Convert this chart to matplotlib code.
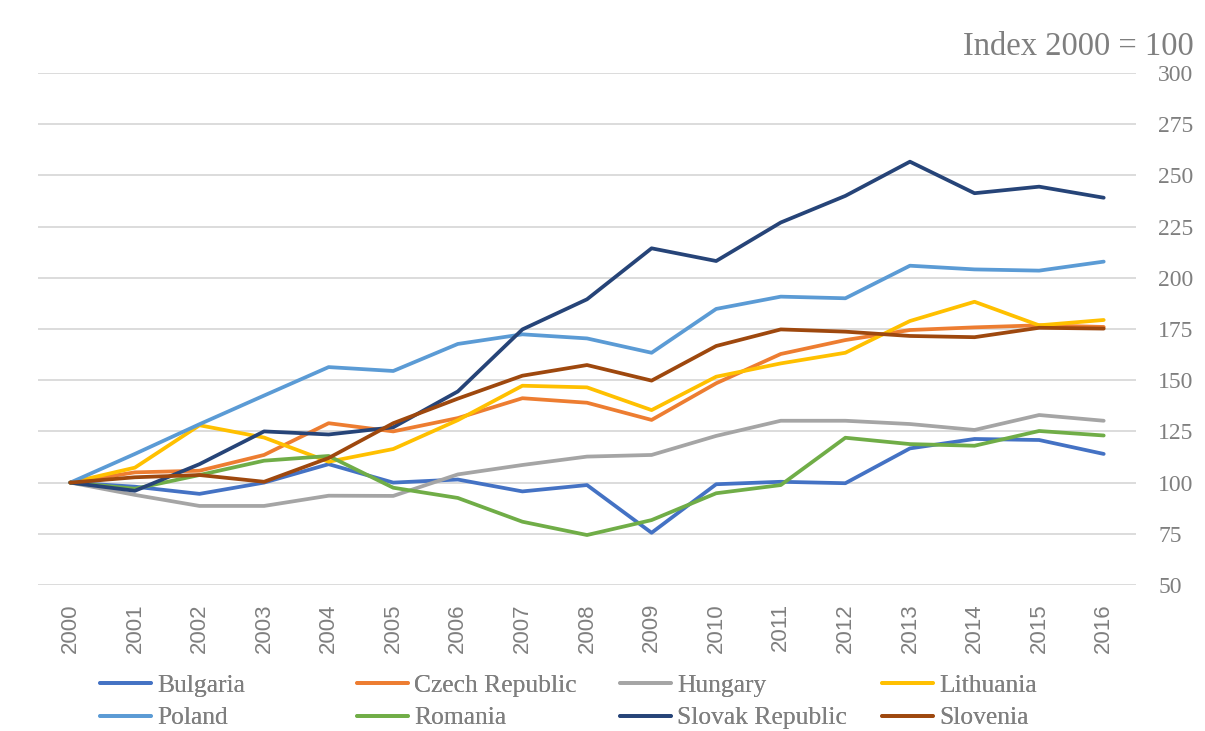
import matplotlib
matplotlib.use("Agg")
import matplotlib.pyplot as plt

years = [str(y) for y in range(2000, 2017)]

bulgaria = [100, 98, 94.5, 100, 109, 100, 101.5, 95.7, 98.8, 75.5, 99.2, 100.4, 99.7, 116.7, 121.3, 120.8, 114]
czech = [100, 105, 105.8, 113.5, 129, 125, 131.5, 141.2, 139, 130.6, 148.5, 162.8, 169.6, 174.5, 175.8, 176.8, 176]
hungary = [100, 94, 88.6, 88.6, 93.6, 93.5, 104, 108.6, 112.7, 113.5, 122.8, 130.2, 130.2, 128.6, 125.7, 133, 130.2]
lithuania = [100, 107.3, 128, 122, 110.2, 116.4, 130.5, 147.3, 146.5, 135.4, 151.7, 158.2, 163.4, 178.9, 188.3, 176.8, 179.4]
poland = [100, 114, 128.5, 142.5, 156.4, 154.5, 167.7, 172.4, 170.4, 163.4, 184.8, 190.8, 190, 205.9, 204.1, 203.5, 207.9]
romania = [100, 97, 103.7, 110.7, 113, 97.5, 92.5, 80.9, 74.4, 81.7, 94.8, 98.8, 121.9, 118.8, 118, 125.2, 123]
slovak = [100, 96, 109, 125, 123.5, 127, 144.5, 174.8, 189.5, 214.4, 208.2, 227, 240, 256.7, 241.3, 244.5, 239.1]
slovenia = [100, 102.6, 103.7, 100.4, 112, 129, 141, 152.2, 157.4, 149.8, 166.7, 174.8, 173.7, 171.6, 171, 175.6, 175.2]

series = [
    ("Bulgaria", bulgaria, "#4472C4"),
    ("Czech Republic", czech, "#ED7D31"),
    ("Hungary", hungary, "#A5A5A5"),
    ("Lithuania", lithuania, "#FFC000"),
    ("Poland", poland, "#5B9BD5"),
    ("Romania", romania, "#70AD47"),
    ("Slovak Republic", slovak, "#264478"),
    ("Slovenia", slovenia, "#9E480E"),
]

yticks = [50, 75, 100, 125, 150, 175, 200, 225, 250, 275, 300]

serif = ["Liberation Serif", "DejaVu Serif"]
sans = ["Liberation Sans", "DejaVu Sans"]
gray = "#7F7F7F"

fig = plt.figure(figsize=(12.05, 7.31), dpi=100)
ax = fig.add_axes([38 / 1205, 146 / 731, (1136 - 38) / 1205, (585 - 73) / 731])

x = list(range(len(years)))
handles = {}
for name, vals, col in series:
    h, = ax.plot(x, vals, color=col, lw=2.7, solid_capstyle="round", solid_joinstyle="round", label=name)
    handles[name] = h

ax.set_xlim(-0.5, len(years) - 0.5)
ax.set_ylim(50, 300)
ax.set_yticks(yticks)
ax.yaxis.tick_right()
ax.set_yticklabels([str(v) for v in yticks], family=serif, fontsize=17, color=gray)
ax.tick_params(axis="y", length=0, pad=16)
for t in ax.get_yticklabels():
    t.set_verticalalignment("center_baseline")
ax.set_xticks(x)
ax.set_xticklabels(years, rotation=90, family=sans, fontsize=16, color=gray)
ax.tick_params(axis="x", length=0, pad=13)
ax.grid(axis="y", color="#D9D9D9", lw=1.3)
ax.set_axisbelow(True)
for s in ax.spines.values():
    s.set_visible(False)

fig.text(1194 / 1205, 1 - 47 / 731, "Index 2000 = 100", ha="right", va="center",
         family=serif, fontsize=23.5, color=gray)

cols = [("Bulgaria", "Poland"), ("Czech Republic", "Romania"),
        ("Hungary", "Slovak Republic"), ("Lithuania", "Slovenia")]
xs = [100, 357, 620, 882]
for (a, b), px in zip(cols, xs):
    leg = fig.legend([handles[a], handles[b]], [a, b], loc="upper left",
                     bbox_to_anchor=(px / 1205, 1 - 674 / 731), frameon=False,
                     prop={"family": serif, "size": 18.4}, handlelength=2.0,
                     handletextpad=0.25, labelspacing=0.38, borderpad=0, borderaxespad=0)
    for t in leg.get_texts():
        t.set_color(gray)
    fig.add_artist(leg)

fig.savefig("out.png", dpi=100)
